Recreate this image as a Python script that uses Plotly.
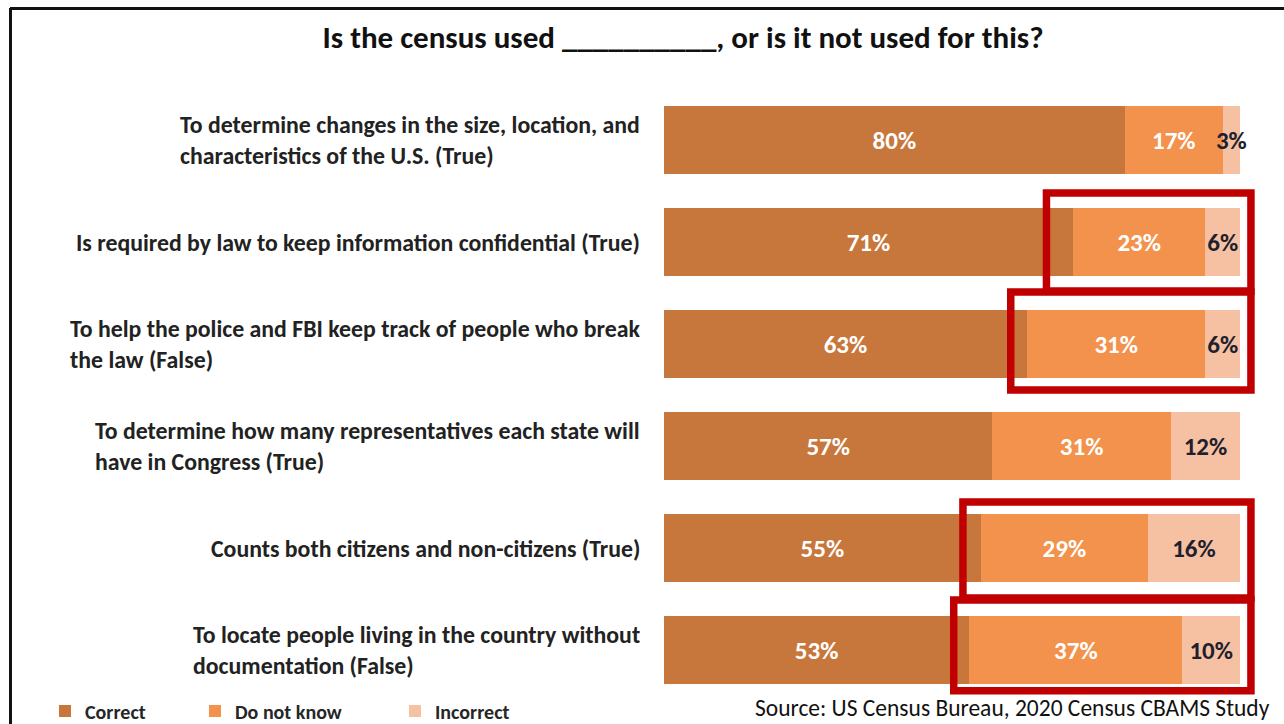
import plotly.graph_objects as go

# ---------------- data ----------------
questions = [
    "To determine changes in the size, location, and<br>characteristics of the U.S. (True)",
    "Is required by law to keep information confidential (True)",
    "To help the police and FBI keep track of people who break<br>the law (False)",
    "To determine how many representatives each state will<br>have in Congress (True)",
    "Counts both citizens and non-citizens (True)",
    "To locate people living in the country without<br>documentation (False)",
]
correct = [80, 71, 63, 57, 55, 53]
do_not_know = [17, 23, 31, 31, 29, 37]
incorrect = [3, 6, 6, 12, 16, 10]
series_names = ["Correct", "Do not know", "Incorrect"]

# highlight boxes (x in %, y in row index units)
highlights = [
    (66.4, 101.9, 0.52, 1.48),
    (60.2, 101.9, 1.49, 2.45),
    (51.9, 101.9, 3.55, 4.49),
    (50.3, 101.9, 4.51, 5.40),
]

# ---------------- style ----------------
FONT = "Carlito, Lato, sans-serif"
colors = ["#C8773C", "#F2924C", "#F6C1A2"]
text_colors = ["white", "white", "#1F1F2E"]

W_PX, H_PX = 1284, 724
L, R, T, B = 664, 14, 89, 23
PW, PH = W_PX - L - R, H_PX - T - B
X_MAX = PW / 5.76


def px_x(px):
    return (px - L) / PW


def px_y(py):
    return (H_PX - B - py) / PH


fig = go.Figure()
values = [correct, do_not_know, incorrect]
legend_ids = ["legend", "legend2", "legend3"]
rows = list(range(len(questions)))
for name, vals, col, tcol, lg in zip(series_names, values, colors, text_colors, legend_ids):
    fig.add_trace(go.Bar(
        y=rows, x=vals, name=name, orientation="h",
        marker=dict(color=col, line=dict(width=0)),
        width=0.66,
        text=[f"{v}%" for v in vals],
        textposition="inside", insidetextanchor="middle", textangle=0,
        textfont=dict(family=FONT, size=25, color=tcol, weight="bold"),
        legend=lg,
        hoverinfo="skip",
    ))

shapes = []
for x0, x1, y0, y1 in highlights:
    shapes.append(dict(type="rect", xref="x", yref="y", x0=x0, x1=x1, y0=y0, y1=y1,
                       line=dict(color="#C00000", width=7.5), fillcolor="rgba(0,0,0,0)",
                       layer="above"))
# slide border
shapes.append(dict(type="line", xref="paper", yref="paper",
                   x0=px_x(10), x1=px_x(1284), y0=px_y(8.5), y1=px_y(8.5),
                   line=dict(color="#111111", width=3)))
shapes.append(dict(type="line", xref="paper", yref="paper",
                   x0=px_x(10.5), x1=px_x(10.5), y0=px_y(8), y1=px_y(724),
                   line=dict(color="#111111", width=3)))

# category labels: block right-aligned, lines left-aligned
annotations = []
for i, q in enumerate(questions):
    annotations.append(dict(text=q, xref="paper", yref="y", x=px_x(642), y=i,
                            xanchor="right", yanchor="middle", align="left",
                            showarrow=False,
                            font=dict(family=FONT, size=23.8, color="#222222", weight="bold")))
annotations.append(dict(text="Source: US Census Bureau, 2020 Census CBAMS Study",
                        xref="paper", yref="paper", x=px_x(1271), y=px_y(723),
                        xanchor="right", yanchor="bottom", showarrow=False, borderpad=0,
                        font=dict(family=FONT, size=23.5, color="#111111")))

legend_common = dict(orientation="h", xanchor="left", yanchor="middle",
                     bgcolor="rgba(0,0,0,0)", borderwidth=0,
                     font=dict(family=FONT, size=20, color="#262626", weight="bold"),
                     itemclick=False, itemdoubleclick=False)

fig.update_layout(
    width=W_PX, height=H_PX,
    margin=dict(l=L, r=R, t=T, b=B, autoexpand=False),
    paper_bgcolor="white", plot_bgcolor="white",
    barmode="stack",
    showlegend=True,
    legend=dict(x=px_x(45), y=px_y(711), **legend_common),
    legend2=dict(x=px_x(195), y=px_y(711), **legend_common),
    legend3=dict(x=px_x(395), y=px_y(711), **legend_common),
    uniformtext=dict(minsize=25, mode="show"),
    title=dict(text="Is the census used __________, or is it not used for this?",
               xref="container", yref="container", x=683 / W_PX, y=1 - 37 / H_PX,
               xanchor="center", yanchor="middle",
               font=dict(family=FONT, size=31, color="#111111", weight="bold")),
    xaxis=dict(range=[0, X_MAX], visible=False, fixedrange=True),
    yaxis=dict(range=[5.5, -0.5], visible=False, fixedrange=True),
    shapes=shapes,
    annotations=annotations,
)

fig.write_html("out.html", config={"displayModeBar": False},
               post_script="document.body.style.margin='0';")
